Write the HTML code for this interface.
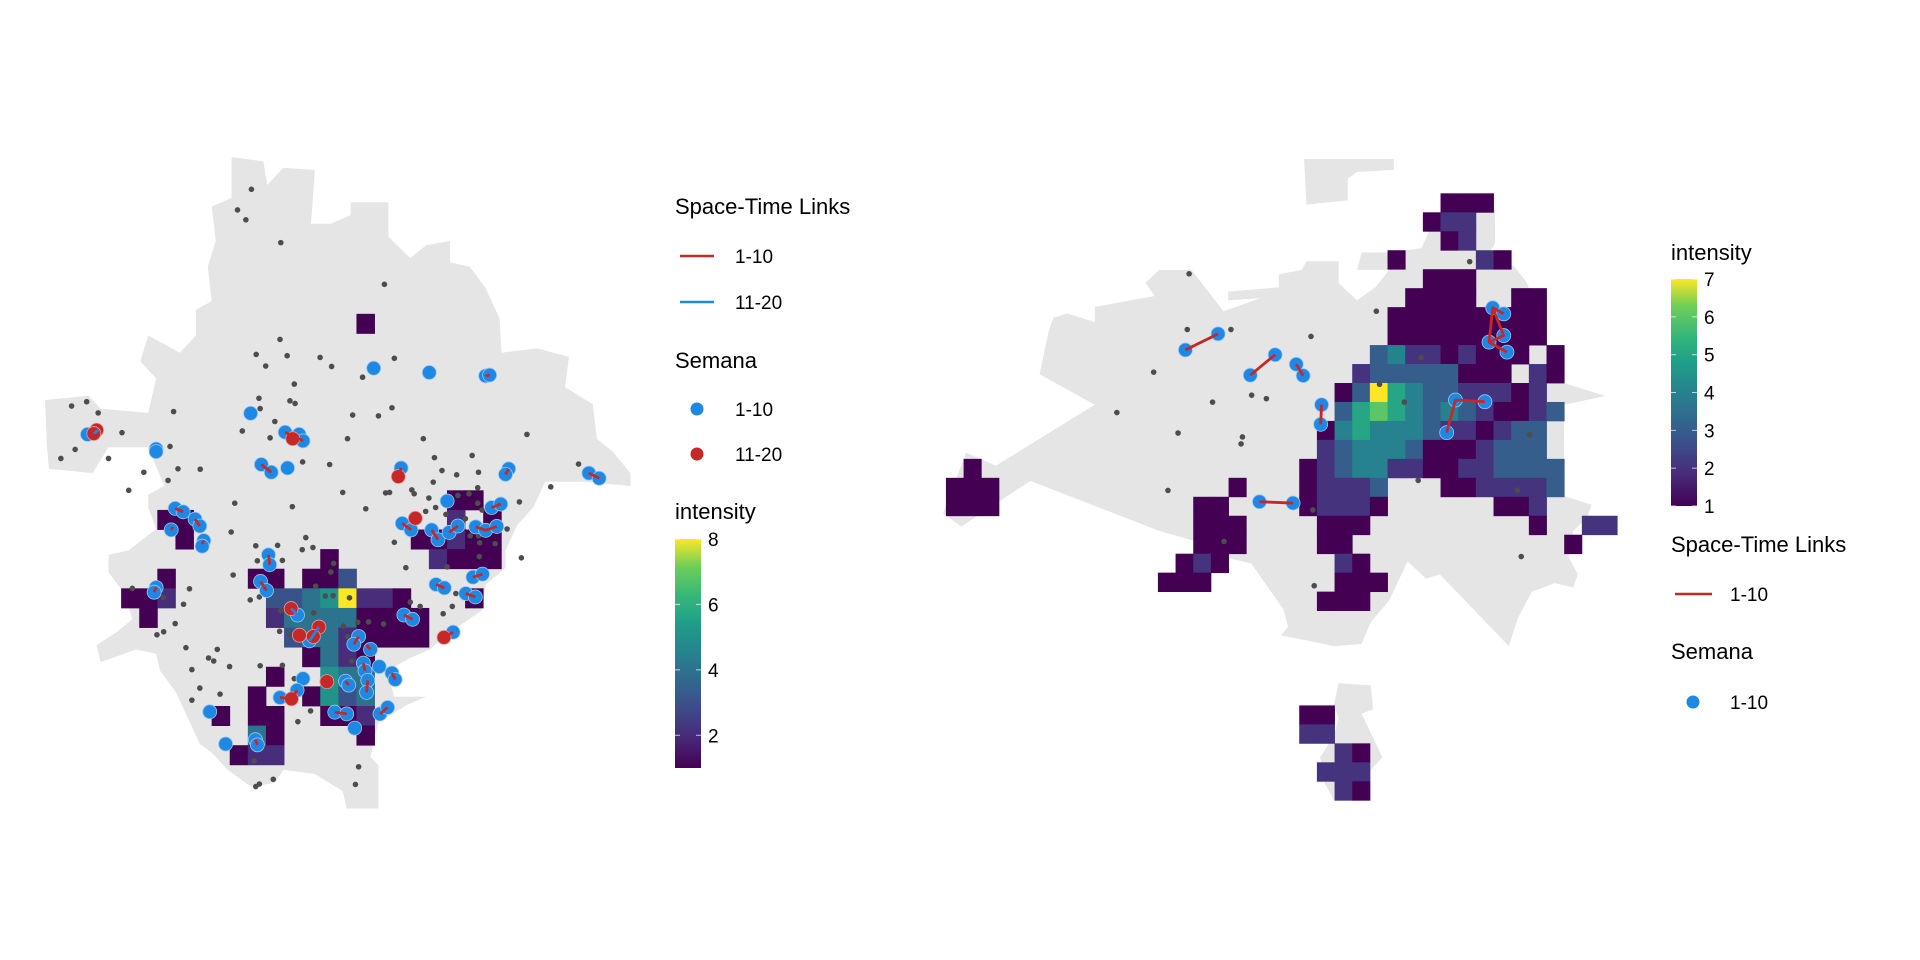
<!DOCTYPE html>
<html><head><meta charset="utf-8"><style>
html,body{margin:0;padding:0;background:#fff;}
svg{display:block;font-family:"Liberation Sans",Arial,sans-serif;}
</style></head><body>
<svg id="chart" width="1920" height="960" viewBox="0 0 1920 960">
<defs>
<linearGradient id="vir" x1="0" y1="1" x2="0" y2="0">
<stop offset="0" stop-color="#440154"/><stop offset="0.13" stop-color="#482878"/><stop offset="0.25" stop-color="#3e4989"/><stop offset="0.38" stop-color="#31688e"/><stop offset="0.5" stop-color="#26828e"/><stop offset="0.63" stop-color="#1f9e89"/><stop offset="0.75" stop-color="#35b779"/><stop offset="0.88" stop-color="#6ece58"/><stop offset="1" stop-color="#fde725"/>
</linearGradient>
</defs>
<g id="left-map"></g>
<g id="right-map"></g>

<g font-size="22" fill="#000">
<text x="675" y="214">Space-Time Links</text>
<line x1="680" y1="256" x2="714" y2="256" stroke="#c62828" stroke-width="2.5"/>
<text x="735" y="263" font-size="19">1-10</text>
<line x1="680" y1="302" x2="714" y2="302" stroke="#1e88e5" stroke-width="2.5"/>
<text x="735" y="309" font-size="19">11-20</text>
<text x="675" y="368">Semana</text>
<circle cx="697" cy="409" r="6.5" fill="#1e88e5"/>
<text x="735" y="416" font-size="19">1-10</text>
<circle cx="697" cy="454" r="6.5" fill="#c62828"/>
<text x="735" y="461" font-size="19">11-20</text>
<text x="675" y="519">intensity</text>
<rect x="675" y="539" width="26" height="229" fill="url(#vir)"/>
<g id="left-cb-ticks"></g>
</g>

<g font-size="22" fill="#000">
<text x="1671" y="260">intensity</text>
<rect x="1671" y="279" width="26" height="227" fill="url(#vir)"/>
<g id="right-cb-ticks"></g>
<text x="1671" y="552">Space-Time Links</text>
<line x1="1675" y1="594" x2="1712" y2="594" stroke="#c62828" stroke-width="2.5"/>
<text x="1730" y="601" font-size="19">1-10</text>
<text x="1671" y="659">Semana</text>
<circle cx="1693" cy="702" r="6.5" fill="#1e88e5"/>
<text x="1730" y="709" font-size="19">1-10</text>
</g>
</svg>
<script>
// ---------- data (map units) ----------
const leftOutline=[[510,45],[590,55],[600,110],[640,70],[720,75],[710,200],[760,200],[810,180],[810,150],[905,150],[905,230],[960,280],[1000,250],[1060,240],[1060,290],[1110,300],[1150,350],[1185,420],[1190,500],[1280,490],[1360,510],[1350,580],[1420,620],[1430,700],[1470,730],[1515,780],[1515,810],[1400,800],[1300,800],[1270,860],[1230,900],[1200,960],[1200,1000],[1150,1040],[1140,1100],[1060,1150],[1010,1190],[960,1210],[900,1240],[920,1300],[1000,1300],[950,1320],[880,1360],[870,1400],[860,1440],[880,1460],[880,1560],[800,1560],[790,1520],[720,1480],[640,1470],[620,1500],[560,1510],[500,1470],[460,1430],[430,1410],[400,1350],[370,1290],[330,1240],[320,1200],[270,1190],[180,1220],[170,1180],[220,1150],[260,1120],[240,1060],[200,1010],[200,970],[250,960],[320,910],[300,860],[300,830],[340,810],[300,720],[200,720],[160,780],[50,770],[45,720],[40,610],[150,600],[180,630],[300,640],[320,560],[280,520],[300,460],[380,500],[420,460],[420,400],[460,380],[450,300],[470,240],[460,160],[510,140]];
const rightOutlines=[
[[30,860],[70,890],[220,785],[500,900],[600,930],[640,960],[700,975],[770,1080],[780,1120],[765,1140],[880,1165],[940,1160],[960,1110],[1000,1060],[1040,970],[1080,1010],[1110,1000],[1260,1165],[1280,1100],[1310,1040],[1360,1020],[1400,1030],[1410,1000],[1390,960],[1400,900],[1430,870],[1440,840],[1380,820],[1380,610],[1470,590],[1380,560],[1380,480],[1340,470],[1300,330],[1270,290],[1200,290],[1230,240],[1230,160],[1170,170],[1100,180],[1070,250],[1000,260],[940,260],[930,300],[1000,300],[970,340],[930,370],[890,330],[890,280],[820,280],[810,300],[760,310],[760,340],[650,350],[650,370],[720,365],[640,395],[570,300],[500,300],[470,330],[490,360],[360,385],[360,420],[300,400],[270,410],[260,440],[240,540],[360,610],[145,750],[80,720]],
[[815,45],[1010,45],[1010,70],[930,75],[910,90],[910,140],[820,150]],
[[890,1250],[960,1255],[965,1310],[940,1320],[985,1420],[960,1450],[960,1520],[880,1520],[860,1480],[850,1420],[880,1370],[890,1330],[880,1300]]];

// heatmap cells [col,row,intensity]
const leftCells=[[1,-14,1],[-10,-4,1],[-9,-4,1],[-9,-3,1],[-10,-1,1],[-12,0,1],[-11,0,1],[-10,0,2],[-11,1,1],
[-5,-1,1],[-4,-1,1],[-1,-2,1],[-2,-1,1],[-1,-1,1],[0,-1,3],
[-4,0,3],[-3,0,3],[-2,0,4],[-1,0,5],[0,0,8],[1,0,2],[2,0,2],[3,0,1],
[-4,1,2],[-3,1,4],[-2,1,4],[-1,1,4],[0,1,4],[1,1,1],[2,1,1],[3,1,1],[4,1,1],
[-3,2,3],[-2,2,4],[-1,2,4],[0,2,2],[1,2,1],[2,2,1],[3,2,1],[4,2,1],
[-2,3,1],[-1,3,4],[0,3,2],[1,3,1],
[-4,4,1],[-1,4,5],[0,4,4],[1,4,4],
[-5,5,1],[-2,5,1],[-1,5,5],[0,5,3],[1,5,4],
[-7,6,1],[-5,6,1],[-4,6,1],[-1,6,1],[0,6,1],[1,6,2],
[-5,7,4],[-4,7,1],[1,7,1],
[-6,8,1],[-5,8,2],[-4,8,2],
[6,-5,1],[7,-5,1],[6,-4,2],[8,-4,1],[4,-3,1],[5,-3,1],[6,-3,2],[7,-3,1],[8,-3,1],[5,-2,2],[6,-2,1],[7,-2,1],[8,-2,1],[7,0,1]];
const rightCells=[[4,-10,1],[5,-10,1],[6,-10,1],[3,-9,1],[4,-9,2],[5,-9,2],[4,-8,1],[5,-8,2],[1,-7,1],[6,-7,2],[7,-7,1],
[3,-6,1],[4,-6,1],[5,-6,1],[2,-5,1],[3,-5,1],[4,-5,1],[5,-5,1],[8,-5,1],[9,-5,1],
[1,-4,1],[2,-4,1],[3,-4,1],[4,-4,1],[5,-4,1],[6,-4,1],[7,-4,1],[8,-4,1],[9,-4,1],
[1,-3,1],[2,-3,1],[3,-3,1],[4,-3,1],[5,-3,1],[6,-3,1],[7,-3,1],[8,-3,1],[9,-3,1],
[0,-2,3],[1,-2,4],[2,-2,2],[3,-2,2],[4,-2,1],[5,-2,2],[6,-2,1],[7,-2,1],[8,-2,1],[10,-2,1],
[-1,-1,2],[0,-1,3],[1,-1,3],[2,-1,3],[3,-1,3],[4,-1,3],[5,-1,1],[6,-1,1],[7,-1,1],[9,-1,2],[10,-1,1],
[-2,0,1],[-1,0,3],[0,0,7],[1,0,5],[2,0,4],[3,0,3],[4,0,3],[5,0,2],[6,0,2],[7,0,2],[8,0,1],[9,0,2],
[-2,1,3],[-1,1,5],[0,1,6],[1,1,5],[2,1,4],[3,1,3],[4,1,4],[5,1,3],[6,1,2],[7,1,1],[8,1,1],[9,1,2],[10,1,3],
[-3,2,1],[-2,2,4],[-1,2,5],[0,2,4],[1,2,4],[2,2,4],[3,2,3],[4,2,2],[5,2,2],[6,2,1],[7,2,2],[8,2,3],[9,2,3],
[-3,3,2],[-2,3,3],[-1,3,4],[0,3,4],[1,3,4],[2,3,3],[3,3,1],[4,3,1],[5,3,1],[6,3,2],[7,3,3],[8,3,3],[9,3,3],
[-4,4,1],[-3,4,2],[-2,4,3],[-1,4,4],[0,4,4],[1,4,2],[2,4,2],[3,4,1],[4,4,1],[5,4,2],[6,4,2],[7,4,3],[8,4,3],[9,4,3],[10,4,3],
[-8,5,1],[-4,5,1],[-3,5,2],[-2,5,2],[-1,5,2],[0,5,3],[4,5,1],[5,5,1],[6,5,2],[7,5,2],[8,5,2],[9,5,2],[10,5,3],
[-10,6,1],[-9,6,1],[-4,6,1],[-3,6,2],[-2,6,2],[-1,6,2],[0,6,1],[7,6,1],[8,6,1],[9,6,2],
[-10,7,1],[-9,7,1],[-8,7,1],[-3,7,1],[-2,7,1],[-1,7,1],[9,7,1],[12,7,2],[13,7,2],
[-10,8,1],[-9,8,1],[-8,8,1],[-3,8,1],[-2,8,1],[11,8,1],
[-11,9,1],[-10,9,2],[-9,9,1],[-2,9,2],[-1,9,1],
[-12,10,1],[-11,10,1],[-10,10,1],[-2,10,1],[-1,10,1],[0,10,1],
[-3,11,1],[-2,11,1],[-1,11,1],
[-23,4,1],[-24,5,1],[-23,5,1],[-22,5,1],[-24,6,1],[-23,6,1],[-22,6,1],
[-4,17,1],[-3,17,1],[-4,18,2],[-3,18,2],[-2,19,2],[-1,19,1],[-3,20,2],[-2,20,2],[-1,20,2],[-2,21,2],[-1,21,1]];

const leftGrey=[[560,120],[525,168],[546,191],[634,244],[895,341],[632,469],[572,504],[650,507],[733,511],[762,532],[920,513],[596,531],[840,557],[668,573],[579,606],[657,612],[670,618],[582,630],[364,637],[107,624],[145,614],[174,640],[234,686],[116,725],[80,746],[200,746],[355,718],[537,682],[619,660],[607,698],[815,645],[880,647],[914,628],[802,700],[993,700],[1254,690],[689,754],[757,760],[289,778],[350,797],[375,770],[431,771],[251,820],[790,825],[898,826],[908,825],[1021,744],[1116,739],[1040,774],[1077,784],[1132,778],[1018,801],[1130,814],[1384,759],[1314,812],[1235,847],[518,850],[663,858],[848,863],[964,819],[970,828],[1007,838],[999,869],[1024,860],[1050,876],[1080,832],[1108,828],[1130,850],[1141,866],[1099,886],[1204,910],[1132,926],[1111,926],[1135,942],[1174,944],[1134,974],[1240,977],[509,917],[697,930],[571,949],[626,948],[688,958],[715,953],[575,984],[638,983],[920,941],[949,1000],[767,990],[760,1010],[1053,998],[514,1017],[722,1043],[766,1065],[260,1048],[404,1049],[338,1069],[389,1085],[557,1075],[580,1068],[746,1066],[807,1070],[634,1100],[717,1105],[828,1127],[855,1126],[893,1131],[792,1136],[631,1148],[656,1156],[339,1149],[322,1156],[368,1130],[395,1186],[474,1190],[452,1210],[465,1217],[505,1230],[410,1237],[582,1228],[638,1227],[668,1258],[802,1160],[813,1217],[1043,1107],[1066,1090],[1075,1060],[430,1280],[410,1308],[481,1294],[709,1333],[677,1358],[567,1449],[615,1492],[580,1503],[571,1509],[830,1463],[822,1504],[960,1080],[985,1090]];
const leftBlue=[[868,536],[1008,546],[1150,554],[1160,552],[558,641],[320,724],[320,730],[147,690],[645,685],[680,690],[690,705],[585,760],[610,778],[651,768],[937,768],[1208,770],[1200,783],[1410,780],[1436,792],[1053,845],[1165,860],[1188,852],[368,862],[388,870],[418,887],[430,903],[358,912],[440,937],[436,950],[940,897],[962,912],[1014,912],[1030,935],[1058,918],[1080,903],[1125,905],[1150,913],[1178,904],[603,970],[606,993],[583,1032],[598,1053],[320,1046],[315,1057],[1025,1039],[1046,1047],[1118,1022],[1142,1015],[1100,1060],[1124,1068],[676,1110],[944,1110],[966,1120],[1068,1150],[706,1170],[830,1160],[818,1178],[860,1190],[842,1222],[846,1240],[882,1230],[914,1245],[922,1260],[690,1258],[675,1285],[632,1302],[770,1336],[800,1340],[820,1373],[884,1340],[903,1325],[797,1264],[805,1273],[853,1262],[850,1290],[455,1335],[495,1410],[570,1400],[575,1412]];
const leftRed=[[170,680],[163,688],[664,700],[930,788],[973,885],[660,1095],[681,1157],[730,1138],[716,1160],[750,1265],[661,1305],[1045,1162]];
const leftLinksRed=[[[1150,554],[1160,552]],[[645,685],[690,705]],[[585,760],[610,778]],[[937,768],[930,788]],[[1208,770],[1200,783]],[[1410,780],[1436,792]],[[1165,860],[1188,852]],[[368,862],[388,870]],[[418,887],[430,903]],[[358,912],[362,905]],[[440,937],[436,945]],[[940,897],[962,912]],[[1014,912],[1030,935]],[[1058,918],[1080,903]],[[1125,905],[1150,913],[1178,904]],[[603,970],[606,993]],[[583,1032],[598,1053]],[[320,1046],[315,1057]],[[1025,1039],[1046,1047]],[[1118,1022],[1142,1015]],[[1100,1060],[1124,1068]],[[944,1110],[966,1120]],[[1045,1162],[1068,1150]],[[830,1160],[818,1178]],[[860,1190],[850,1180]],[[842,1222],[846,1240]],[[914,1245],[922,1260]],[[632,1302],[661,1305],[675,1285]],[[770,1336],[800,1340]],[[884,1340],[903,1325]],[[797,1264],[805,1273]],[[853,1262],[850,1290]],[[570,1400],[575,1412]],[[750,1265],[756,1262]]];
const leftLinksBlue=[[[660,1095],[676,1110]],[[706,1170],[730,1138]],[[163,688],[175,680]]];

const rightGrey=[[565,309],[561,437],[656,437],[830,453],[972,395],[1175,281],[488,535],[616,604],[701,588],[733,596],[408,628],[541,675],[681,684],[678,700],[979,563],[1033,604],[1069,502],[1305,679],[1063,784],[1279,806],[519,807],[834,852],[641,924],[1287,959],[837,1026]];
const rightBlue=[[557,484],[628,447],[698,542],[752,495],[798,517],[813,543],[853,610],[851,655],[718,833],[791,836],[1125,674],[1144,599],[1208,603],[1225,387],[1249,401],[1249,451],[1217,466],[1256,489]];
const rightLinks=[[[557,484],[628,447]],[[698,542],[752,495]],[[798,517],[813,543]],[[853,610],[851,655]],[[718,833],[791,836]],[[1125,674],[1144,599],[1208,603]],[[1225,387],[1249,451],[1217,466],[1225,387],[1249,401]],[[1217,466],[1256,489]]];

const leftTicks=[2,4,6,8];
const rightTicks=[1,2,3,4,5,6,7];

// ---------- scales ----------
const NS='http://www.w3.org/2000/svg';
const L={ox:29.1,oy:137.7,kx:0.397,ky:0.43};
const R={ox:929.2,oy:139.4,kx:0.46,ky:0.435};
function px(m,v){return m.ox+v*m.kx;}
function py(m,v){return m.oy+v*m.ky;}
const vstops=['#440154','#482878','#3e4989','#31688e','#26828e','#1f9e89','#35b779','#6ece58','#fde725'];
function hex(c){return [1,3,5].map(i=>parseInt(c.substr(i,2),16));}
function viridis(t){t=Math.max(0,Math.min(1,t));const f=t*(vstops.length-1),i=Math.min(Math.floor(f),vstops.length-2),u=f-i;const a=hex(vstops[i]),b=hex(vstops[i+1]);return 'rgb('+a.map((x,j)=>Math.round(x+(b[j]-x)*u)).join(',')+')';}
function mk(tag,attrs,parent){const e=document.createElementNS(NS,tag);for(const k in attrs)e.setAttribute(k,attrs[k]);parent.appendChild(e);return e;}

function drawMap(g,m,outlines,cells,grid,vmax,grey,blue,red,linksR,linksB){
  outlines.forEach(o=>{
    const p=mk('polygon',{points:o.map(q=>px(m,q[0])+','+py(m,q[1])).join(' '),fill:'#e5e5e5'},g);
    
    
  });
  cells.forEach(c=>{
    const x=px(m,grid.x0+c[0]*grid.w),y=py(m,grid.y0+c[1]*grid.h);
    const r=mk('rect',{x:x,y:y,width:grid.w*m.kx+0.4,height:grid.h*m.ky+0.4,fill:viridis((c[2]-1)/(vmax-1))},g);
    
    
  });
  grey.forEach(d=>{
    const c=mk('circle',{cx:px(m,d[0]),cy:py(m,d[1]),r:2.8,fill:'#4d4d4d'},g);
    
    
  });
  blue.forEach(d=>{
    const c=mk('circle',{cx:px(m,d[0]),cy:py(m,d[1]),r:7,fill:'#1e88e5',stroke:'#9cc7ee','stroke-width':0.8},g);
    
    
  });
  red.forEach(d=>{
    const c=mk('circle',{cx:px(m,d[0]),cy:py(m,d[1]),r:7,fill:'#c62828',stroke:'#e0a0a0','stroke-width':0.8},g);
    
    
  });
  linksR.forEach(l=>{
    const p=mk('polyline',{points:l.map(q=>px(m,q[0])+','+py(m,q[1])).join(' '),fill:'none',stroke:'#c62828','stroke-width':2.8,'stroke-linejoin':'round'},g);
    
    
  });
  linksB.forEach(l=>{
    const p=mk('polyline',{points:l.map(q=>px(m,q[0])+','+py(m,q[1])).join(' '),fill:'none',stroke:'#1e88e5','stroke-width':2.8},g);
    
    
  });
}
drawMap(document.getElementById('left-map'),L,[leftOutline],leftCells,{x0:779,y0:1048,w:45.6,h:45.6},8,leftGrey,leftBlue,leftRed,leftLinksRed,leftLinksBlue);
drawMap(document.getElementById('right-map'),R,rightOutlines,rightCells,{x0:958,y0:560,w:38.4,h:43.6},7,rightGrey,rightBlue,[],rightLinks,[]);

function cbTicks(g,ticks,vmin,vmax,x,yTop,yBot){
  ticks.forEach(t=>{
    const y=yBot-(t-vmin)/(vmax-vmin)*(yBot-yTop);
    const a=mk('line',{x1:x,y1:y,x2:x+5,y2:y,stroke:'#fff','stroke-width':1,opacity:0.7},g);
    
    
    const b=mk('line',{x1:x+21,y1:y,x2:x+26,y2:y,stroke:'#fff','stroke-width':1,opacity:0.7},g);
    
    
    const tx=mk('text',{x:x+33,y:y+7,'font-size':19},g);
    tx.textContent=t;
    
    
  });
}
cbTicks(document.getElementById('left-cb-ticks'),leftTicks,1,8,675,539,768);
cbTicks(document.getElementById('right-cb-ticks'),rightTicks,1,7,1671,279,506);
</script>
</body></html>
